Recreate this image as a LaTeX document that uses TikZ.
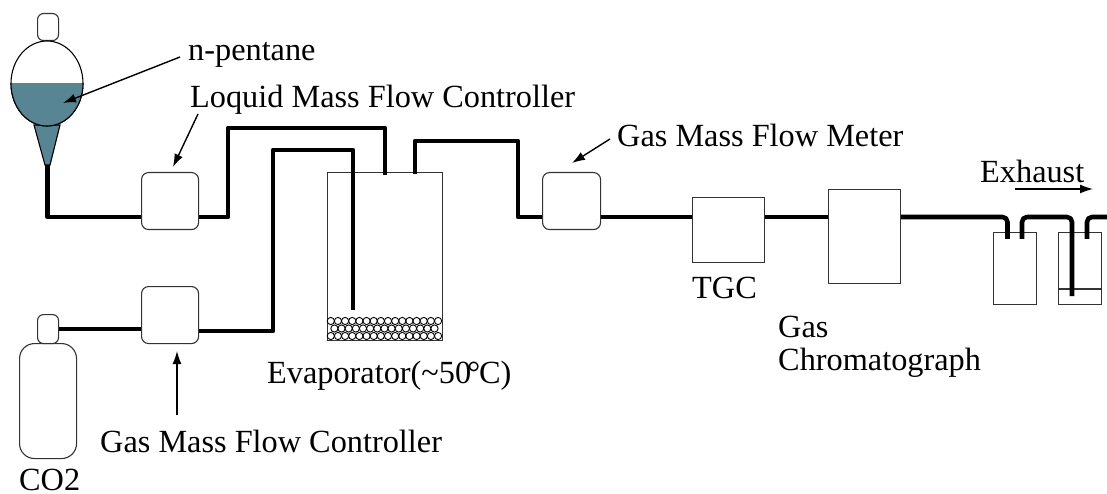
\documentclass[tikz,border=0pt]{standalone}
\usepackage{fontspec}
\setmainfont{Liberation Serif}
\usetikzlibrary{arrows.meta}
\tikzset{
  pipe/.style={line width=4.6pt,black,line cap=butt,line join=round},
  boxb/.style={draw=black!80,line width=1.1pt,fill=white,rounded corners=7pt,inner sep=0pt,anchor=north west},
  plainb/.style={draw=black!80,line width=1.1pt,fill=white,inner sep=0pt,anchor=north west},
  lbl/.style={inner sep=0pt,anchor=base west,font=\fontsize{32.3}{36}\selectfont},
  callout/.style={line width=1.4pt,-{Latex[length=13pt,width=9pt]}},
  vessel/.style={draw=black,line width=1.1pt}
}
\definecolor{liquid}{RGB}{88,133,148}
\begin{document}
\begin{tikzpicture}[x=1pt,y=-1pt]
\useasboundingbox (0,0) rectangle (1107,494);
% bulb and cone
\draw[vessel,fill=liquid] (34,125) -- (60,125) -- (50,165) -- (45,165) -- cycle;
\node[boxb,rounded corners=6pt,minimum width=21pt,minimum height=27pt] (cap) at (37,13) {};
\draw[vessel,fill=white] (47,83.5) ellipse [x radius=36,y radius=42.5];
\begin{scope}
\clip (0,83.5) rectangle (120,140);
\fill[liquid] (47,83.5) ellipse [x radius=36,y radius=42.5];
\draw[vessel] (47,83.5) ellipse [x radius=36,y radius=42.5];
\end{scope}
% cylinder
\node[boxb,rounded corners=15pt,minimum width=57pt,minimum height=115pt] (cyl) at (19,343) {};
\node[boxb,rounded corners=6pt,minimum width=21pt,minimum height=29pt] (valve) at (37,314) {};
% evaporator
\node[plainb,minimum width=115pt,minimum height=168pt] (evap) at (327,172) {};
\foreach \i in {0,...,15}{
  \draw[line width=.9pt,fill=white] (330.8+7.15*\i,321) circle (3.6);
  \draw[line width=.9pt,fill=white] (330.8+7.15*\i,336) circle (3.6);
}
\foreach \i in {0,...,14}{
  \draw[line width=.9pt,fill=white] (334.4+7.15*\i,328.5) circle (3.6);
}
% traps
\node[plainb,minimum width=43pt,minimum height=72pt] (trapa) at (993,232) {};
\node[plainb,minimum width=43pt,minimum height=72pt] (trapb) at (1058,232) {};
\draw[line width=1.1pt,black!80] (trapb.west |- 0,289) -- (trapb.east |- 0,289);
% free ends of the lines
\coordinate (tip) at (47.5,165);
\coordinate (edge) at (1107,217);
\coordinate (dipa) at (353,310);
\coordinate (inb) at (385,175);
\coordinate (outc) at (415,174);
\coordinate (ta) at (1007.5,239);
\coordinate (tb) at (1022,239);
\coordinate (tc) at (1072,296);
\coordinate (td) at (1087,239);
% pipes
\draw[pipe] (tip) -- (47.5,217) -- (141,217);
\draw[pipe] (198,217) -- (228,217) -- (228,128) -- (385,128) -- (inb);
\draw[pipe] (valve.east |- 0,329) -- (141,329);
\draw[pipe] (198,331) -- (273,331) -- (273,150) -- (353,150) -- (dipa);
\draw[pipe] (outc) -- (415,141) -- (518,141) -- (518,217) -- (542,217);
\draw[pipe] (600,217) -- (692,217);
\draw[pipe] (764,217) -- (828,217);
\draw[pipe,rounded corners=5pt] (900,217) -- (1007.5,217) -- (ta);
\draw[pipe,rounded corners=5pt] (tb) -- (1022,217) -- (1072,217) -- (tc);
\draw[pipe,rounded corners=5pt] (td) -- (1087,217) -- (edge);
% boxes
\node[boxb,minimum width=57pt,minimum height=57pt] (lmfc) at (141,172) {};
\node[boxb,minimum width=57pt,minimum height=57pt] (gmfc) at (141,286) {};
\node[boxb,minimum width=58pt,minimum height=57pt] (gmfm) at (542,172) {};
\node[plainb,minimum width=72pt,minimum height=65pt] (tgc) at (692,197) {};
\node[plainb,minimum width=72pt,minimum height=94pt] (gc) at (828,189) {};
% labels
\node[lbl] (t1) at (188,61) {n-pentane};
\node[lbl] (t2) at (190,108) {Loquid Mass Flow Controller};
\node[lbl] (t3) at (617,147) {Gas Mass Flow Meter};
\node[lbl] (t4) at (980,183) {Exhaust};
\node[lbl] (t5) at (692,298) {TGC};
\node[lbl] (t6) at (778,337) {Gas};
\node[lbl] (t7) at (778,370) {Chromatograph};
\node[lbl] (t8) at (267,383) {Evaporator(\textasciitilde50\kern-4pt°\kern-1pt C)};
\node[lbl] (t9) at (100,452) {Gas Mass Flow Controller};
\node[lbl] (t10) at (19,490) {CO2};
% callouts
\coordinate (a1) at (180,57); \coordinate (b1) at (63,103);
\coordinate (a2) at (198,114); \coordinate (b2) at (173,167);
\coordinate (a3) at (610,139); \coordinate (b3) at (572,163);
\coordinate (a4) at (177,415); \coordinate (b4) at (177,351);
\coordinate (a5) at (1015,189); \coordinate (b5) at (1093,189);
\draw[callout] (a1) -- (b1);
\draw[callout] (a2) -- (b2);
\draw[callout] (a3) -- (b3);
\draw[callout] (a4) -- (b4);
\draw[callout] (a5) -- (b5);
\end{tikzpicture}
\end{document}
